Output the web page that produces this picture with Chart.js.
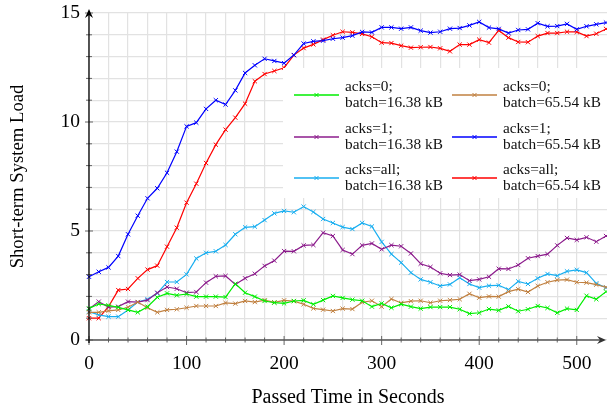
<!DOCTYPE html>
<html>
<head>
<meta charset="utf-8">
<script src="https://cdn.jsdelivr.net/npm/chart.js@4.4.1/dist/chart.umd.min.js"></script>
<style>
  html, body { margin: 0; padding: 0; background: #fff; }
</style>
</head>
<body>
<canvas id="load" width="607" height="410"></canvas>
<script>
// === Data (seconds vs. short-term system load)
const seconds = [0, 10, 20, 30, 40, 50, 60, 70, 80, 90, 100, 110, 120, 130, 140, 150, 160, 170, 180, 190,
  200, 210, 220, 230, 240, 250, 260, 270, 280, 290, 300, 310, 320, 330, 340, 350, 360, 370, 380, 390,
  400, 410, 420, 430, 440, 450, 460, 470, 480, 490, 500, 510, 520, 530];

const acks0Batch16 = [1.45, 1.65, 1.59, 1.5, 1.38, 1.27, 1.53, 1.96, 2.14, 2.05, 2.11, 1.99, 1.99, 1.99, 1.97, 2.58, 2.17, 1.99, 1.79, 1.71,
  1.68, 1.79, 1.82, 1.64, 1.83, 2.02, 1.93, 1.85, 1.8, 1.53, 1.68, 1.48, 1.64, 1.53, 1.44, 1.51, 1.51, 1.51, 1.41, 1.21,
  1.25, 1.42, 1.36, 1.54, 1.32, 1.41, 1.56, 1.47, 1.25, 1.44, 1.38, 2.03, 1.87, 2.22];

const acks0Batch65 = [1.27, 1.27, 1.34, 1.38, 1.5, 1.74, 1.48, 1.27, 1.38, 1.41, 1.48, 1.56, 1.56, 1.56, 1.7, 1.67, 1.79, 1.74, 1.83, 1.73,
  1.82, 1.78, 1.64, 1.45, 1.39, 1.33, 1.44, 1.42, 1.73, 1.8, 1.53, 1.88, 1.7, 1.78, 1.8, 1.71, 1.8, 1.83, 1.87, 2.12,
  1.94, 2.0, 1.99, 2.22, 2.33, 2.2, 2.48, 2.65, 2.75, 2.77, 2.65, 2.63, 2.54, 2.42];

const acks1Batch16 = [1.42, 1.76, 1.51, 1.53, 1.76, 1.74, 1.83, 2.17, 2.43, 2.35, 2.17, 2.2, 2.63, 2.92, 2.94, 2.55, 2.83, 3.04, 3.4, 3.64,
  4.08, 4.07, 4.34, 4.36, 4.92, 4.77, 4.13, 3.94, 4.34, 4.43, 4.16, 4.35, 4.3, 3.97, 3.5, 3.35, 3.06, 2.98, 3.0, 2.72,
  2.78, 2.9, 3.27, 3.26, 3.44, 3.75, 3.85, 3.94, 4.34, 4.68, 4.59, 4.71, 4.51, 4.77];

const acks1Batch65 = [2.9, 3.13, 3.33, 3.85, 4.85, 5.7, 6.5, 6.96, 7.67, 8.64, 9.8, 9.97, 10.6, 11.0, 10.8, 11.45, 12.25, 12.6, 12.9, 12.8,
  12.7, 13.07, 13.6, 13.7, 13.73, 13.82, 13.87, 13.96, 14.13, 14.11, 14.34, 14.34, 14.28, 14.34, 14.19, 14.1, 14.14, 14.28, 14.31, 14.43,
  14.59, 14.33, 14.27, 14.08, 14.22, 14.25, 14.53, 14.39, 14.4, 14.5, 14.25, 14.39, 14.48, 14.56];

const acksAllBatch16 = [1.3, 1.15, 1.07, 1.07, 1.38, 1.74, 1.87, 2.14, 2.66, 2.66, 3.01, 3.74, 4.0, 4.07, 4.36, 4.85, 5.17, 5.2, 5.5, 5.81,
  5.92, 5.86, 6.12, 5.87, 5.55, 5.37, 5.18, 5.09, 5.37, 5.21, 4.5, 3.94, 3.55, 3.09, 2.78, 2.65, 2.48, 2.55, 2.86, 2.57,
  2.4, 2.49, 2.51, 2.31, 2.69, 2.57, 2.83, 3.03, 2.95, 3.15, 3.22, 3.09, 2.6, 2.4];

const acksAllBatch65 = [1.0, 1.0, 1.53, 2.29, 2.34, 2.83, 3.23, 3.41, 4.28, 5.15, 6.3, 7.17, 8.12, 8.96, 9.65, 10.2, 10.84, 11.87, 12.2, 12.34,
  12.49, 13.07, 13.39, 13.56, 13.78, 13.98, 14.14, 14.11, 14.04, 13.91, 13.64, 13.62, 13.5, 13.41, 13.43, 13.44, 13.38, 13.24, 13.55, 13.55,
  13.78, 13.64, 14.2, 13.87, 13.67, 13.66, 13.94, 14.08, 14.08, 14.14, 14.13, 13.94, 14.05, 14.27];

const xTickLabels = [0, 100, 200, 300, 400, 500];
const yTickLabels = [0, 5, 10, 15];

// legend order: row by row, two columns
const series = [
  { label: ["acks=0;", "batch=16.38 kB"],   values: acks0Batch16,   color: "#00ee00" },
  { label: ["acks=0;", "batch=65.54 kB"],   values: acks0Batch65,   color: "#c08040" },
  { label: ["acks=1;", "batch=16.38 kB"],   values: acks1Batch16,   color: "#8c1c8c" },
  { label: ["acks=1;", "batch=65.54 kB"],   values: acks1Batch65,   color: "#0000ff" },
  { label: ["acks=all;", "batch=16.38 kB"], values: acksAllBatch16, color: "#18aef0" },
  { label: ["acks=all;", "batch=65.54 kB"], values: acksAllBatch65, color: "#ff0000" }
];

const serif = "'Liberation Serif', 'DejaVu Serif', serif";

// no extra room for overflowing tick labels, the plot area is placed by hand
function noPadding(s) {
  s.paddingTop = 0; s.paddingBottom = 0; s.paddingLeft = 0; s.paddingRight = 0;
}

// === Axes with arrows, tick marks and the legend box
const decorations = {
  id: "decorations",
  afterDatasetsDraw(chart) {
    const { ctx, chartArea, scales } = chart;
    const x = scales.x, y = scales.y;
    const x0 = x.getPixelForValue(0), y0 = y.getPixelForValue(0);
    const xEnd = chart.width - 1;
    ctx.save();

    // tick marks
    ctx.strokeStyle = "#666";
    ctx.lineWidth = 1;
    x.ticks.forEach(t => {
      const px = x.getPixelForValue(t.value);
      const major = xTickLabels.includes(t.value);
      ctx.beginPath();
      ctx.moveTo(px, y0 - (major ? 4 : 2.5));
      ctx.lineTo(px, y0 + (major ? 5 : 2.5));
      ctx.stroke();
    });
    y.ticks.forEach(t => {
      const py = y.getPixelForValue(t.value);
      const major = yTickLabels.includes(t.value);
      ctx.beginPath();
      ctx.moveTo(x0 - (major ? 4 : 3), py);
      ctx.lineTo(x0 + (major ? 4 : 3), py);
      ctx.stroke();
    });

    // x axis
    ctx.strokeStyle = "#555";
    ctx.fillStyle = "#333";
    ctx.lineWidth = 1.6;
    ctx.beginPath();
    ctx.moveTo(x0 - 3, y0);
    ctx.lineTo(xEnd - 3, y0);
    ctx.stroke();
    ctx.beginPath();
    ctx.moveTo(xEnd, y0);
    ctx.lineTo(xEnd - 9, y0 - 4);
    ctx.lineTo(xEnd - 6, y0);
    ctx.lineTo(xEnd - 9, y0 + 4);
    ctx.closePath();
    ctx.fill();

    // y axis
    ctx.strokeStyle = "#000";
    ctx.fillStyle = "#000";
    ctx.lineWidth = 1.3;
    ctx.beginPath();
    ctx.moveTo(x0, y0 + 3);
    ctx.lineTo(x0, chartArea.top - 1);
    ctx.stroke();
    const tip = chartArea.top - 4;
    ctx.beginPath();
    ctx.moveTo(x0, tip);
    ctx.lineTo(x0 - 4, tip + 9);
    ctx.lineTo(x0, tip + 6);
    ctx.lineTo(x0 + 4, tip + 9);
    ctx.closePath();
    ctx.fill();

    // legend
    ctx.fillStyle = "#fff";
    ctx.fillRect(283, 68, chart.width - 283, 130);
    const colLine = [294, 452], colText = [345, 503], rowY = [95, 137, 178];
    ctx.font = "15.3px " + serif;
    ctx.textBaseline = "alphabetic";
    ctx.textAlign = "left";
    chart.data.datasets.forEach((ds, i) => {
      const cx = colLine[i % 2], ly = rowY[Math.floor(i / 2)];
      ctx.strokeStyle = ds.borderColor;
      ctx.lineWidth = 1.4;
      ctx.beginPath();
      ctx.moveTo(cx, ly);
      ctx.lineTo(cx + 45, ly);
      ctx.stroke();
      const mx = cx + 22.5;
      ctx.lineWidth = 1;
      ctx.beginPath();
      ctx.moveTo(mx - 2, ly - 2); ctx.lineTo(mx + 2, ly + 2);
      ctx.moveTo(mx - 2, ly + 2); ctx.lineTo(mx + 2, ly - 2);
      ctx.stroke();
      ctx.fillStyle = "#111";
      ctx.fillText(ds.label[0], colText[i % 2], ly - 4);
      ctx.fillText(ds.label[1], colText[i % 2], ly + 11.5);
    });
    ctx.restore();
  }
};

new Chart(document.getElementById("load"), {
  type: "line",
  data: {
    datasets: series.map(s => ({
      label: s.label,
      data: seconds.map((t, i) => ({ x: t, y: s.values[i] })),
      borderColor: s.color,
      backgroundColor: s.color,
      borderWidth: 1.2,
      pointStyle: "crossRot",
      pointRadius: 3,
      pointBorderWidth: 1,
      tension: 0,
      clip: false
    }))
  },
  options: {
    responsive: false,
    animation: false,
    layout: { autoPadding: false, padding: { top: 13, right: 0, left: 0, bottom: 0 } },
    plugins: { legend: { display: false }, tooltip: { enabled: false } },
    scales: {
      x: {
        type: "linear",
        min: 0,
        max: 531,
        afterBuildTicks: s => { s.ticks = s.ticks.filter(t => t.value % 20 === 0); },
        afterFit: s => { s.height = 70; noPadding(s); },
        ticks: {
          stepSize: 20,
          autoSkip: false,
          maxRotation: 0,
          padding: 12,
          color: "#000",
          font: { family: serif, size: 19.5 },
          callback: v => xTickLabels.includes(v) ? String(v) : ""
        },
        grid: { color: "#e2e2e2", lineWidth: 1.2, drawTicks: false },
        border: { display: false },
        title: {
          display: true,
          text: "Passed Time in Seconds",
          color: "#000",
          font: { family: serif, size: 20 },
          padding: { top: 0, bottom: 0 }
        }
      },
      y: {
        min: 0,
        max: 15,
        afterFit: s => { s.width = 89; noPadding(s); },
        ticks: {
          stepSize: 1,
          autoSkip: false,
          padding: 9,
          color: "#000",
          font: { family: serif, size: 19.5 },
          callback: v => yTickLabels.includes(v) ? String(v) : ""
        },
        grid: { color: "#e2e2e2", lineWidth: 1.2, drawTicks: false },
        border: { display: false },
        title: {
          display: true,
          text: "Short-term System Load",
          color: "#000",
          font: { family: serif, size: 18.7 },
          padding: { top: 7, bottom: 0 }
        }
      }
    }
  },
  plugins: [decorations]
});
</script>
</body>
</html>
